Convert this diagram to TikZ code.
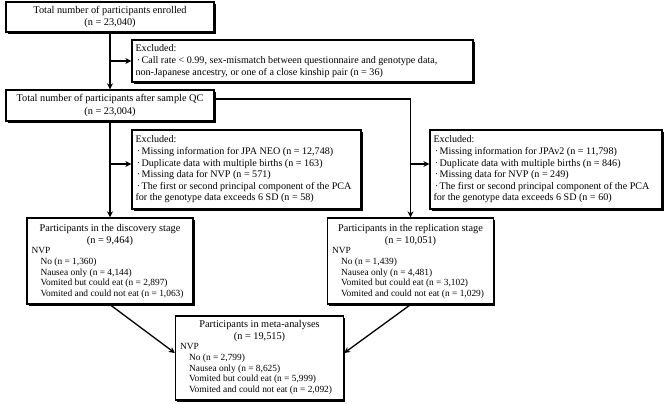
\documentclass[tikz,border=0pt]{standalone}
\usepackage{fontspec}
\setmainfont{Liberation Serif}
\usetikzlibrary{arrows.meta,shadows}
\newcommand{\bul}{\makebox[0.6em][c]{·}}
\newcommand{\ind}{\hspace*{9pt}}
\begin{document}
\begin{tikzpicture}[x=1pt,y=-1pt,
  box/.style={draw, line width=1.3pt, fill=white, inner sep=0pt,
     drop shadow={shadow xshift=1.6pt,shadow yshift=-1.6pt,opacity=1,fill=black}},
  ttl/.style={inner sep=0pt, align=center, font=\fontsize{10.3}{12.8}\selectfont},
  exc/.style={inner sep=0pt, align=left, font=\fontsize{10.1}{11.6}\selectfont, anchor=west},
  lst/.style={inner sep=0pt, align=left, font=\fontsize{9.4}{10.6}\selectfont, anchor=west},
  arr/.style={line width=1.3pt, -{Stealth[length=6pt,width=6pt]}}
]
\useasboundingbox (0,0) rectangle (669,404);

% main column
\node[box, ttl, minimum width=208pt, minimum height=30pt] (b1) at (110,17)
  {Total number of participants enrolled\\(n = 23,040)};
\node[box, ttl, minimum width=208pt, minimum height=31pt] (b2) at (110,105.5)
  {Total number of participants after sample QC\\(n = 23,004)};

% excluded boxes
\node[box, minimum width=341pt, minimum height=42pt] (e1) at (302.5,61) {};
\node[exc] (e1t) at ([xshift=4pt]e1.west)
  {Excluded:\\\bul Call rate < 0.99, sex-mismatch between questionnaire and genotype data,\\non-Japanese ancestry, or one of a close kinship pair (n = 36)};

\node[box, minimum width=229pt, minimum height=79pt] (e2) at (246.5,169.5) {};
\node[exc] (e2t) at ([xshift=4pt]e2.west)
  {Excluded:\\\bul Missing information for JPA NEO (n = 12,748)\\\bul Duplicate data with multiple births (n = 163)\\\bul Missing data for NVP (n = 571)\\\bul The first or second principal component of the PCA\\for the genotype data exceeds 6 SD (n = 58)};

\node[box, minimum width=232pt, minimum height=79pt] (e3) at (546,169.5) {};
\node[exc] (e3t) at ([xshift=4pt]e3.west)
  {Excluded:\\\bul Missing information for JPAv2 (n = 11,798)\\\bul Duplicate data with multiple births (n = 846)\\\bul Missing data for NVP (n = 249)\\\bul The first or second principal component of the PCA\\for the genotype data exceeds 6 SD (n = 60)};

% stage boxes
\node[box, minimum width=166pt, minimum height=86pt] (d) at (110,261) {};
\node[ttl] (dt) at (110,235) {Participants in the discovery stage\\(n = 9,464)};
\node[lst] (dl) at ([xshift=5pt,yshift=-12pt]d.west)
  {NVP\\\ind No (n = 1,360)\\\ind Nausea only (n = 4,144)\\\ind Vomited but could eat (n = 2,897)\\\ind Vomited and could not eat (n = 1,063)};

\node[box, minimum width=166pt, minimum height=86pt] (r) at (410.5,261) {};
\node[ttl] (rt) at (410.5,235) {Participants in the replication stage\\(n = 10,051)};
\node[lst] (rl) at ([xshift=5pt,yshift=-12pt]r.west)
  {NVP\\\ind No (n = 1,439)\\\ind Nausea only (n = 4,481)\\\ind Vomited but could eat (n = 3,102)\\\ind Vomited and could not eat (n = 1,029)};

\node[box, minimum width=168pt, minimum height=84pt] (m) at (259.5,358) {};
\node[ttl] (mt) at (259.5,331) {Participants in meta-analyses\\(n = 19,515)};
\node[lst] (ml) at ([xshift=5pt,yshift=-11pt]m.west)
  {NVP\\\ind No (n = 2,799)\\\ind Nausea only (n = 8,625)\\\ind Vomited but could eat (n = 5,999)\\\ind Vomited and could not eat (n = 2,092)};

% connectors
\coordinate (e1in) at (e1.west);
\coordinate (e2in) at ([yshift=5.5pt]e2.west);
\coordinate (e3in) at ([yshift=5.5pt]e3.west);
\coordinate (b2out) at ([yshift=6.5pt]b2.east);
\coordinate (mL) at ([yshift=5pt]m.west);
\coordinate (mR) at ([yshift=5pt]m.east);

\draw[arr] (b1) -- (b2);
\draw[arr] (b1.south |- e1in) -- (e1in);
\draw[arr] (b2) -- (d);
\draw[arr] (b2.south |- e2in) -- (e2in);
\draw[arr] (b2out) -| (r);
\draw[arr] (r.north |- e3in) -- (e3in);
\draw[arr] (d.south) -- (mL);
\draw[arr] (r.south) -- (mR);
\end{tikzpicture}
\end{document}
